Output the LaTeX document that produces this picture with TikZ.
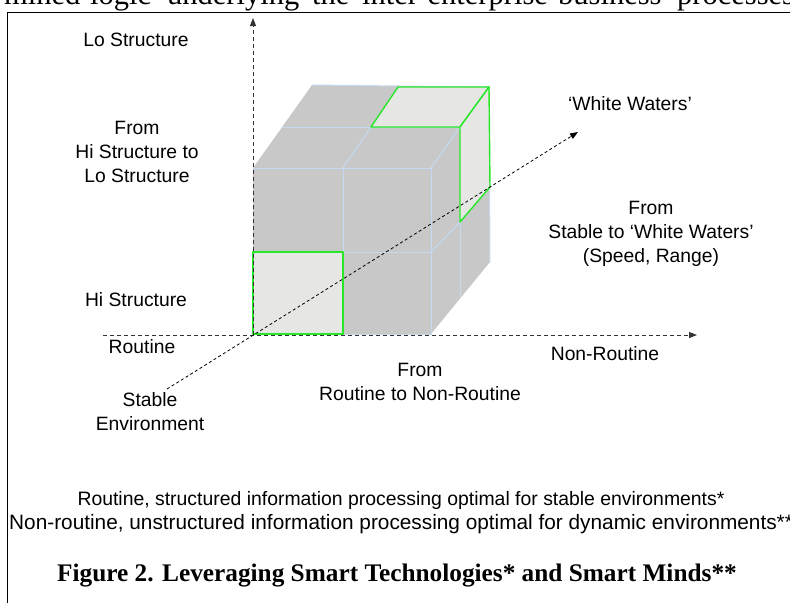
\documentclass[tikz,border=0pt]{standalone}
\usepackage{fontspec}
\setmainfont{Liberation Serif}
\newfontfamily\arial{Liberation Sans}
\usetikzlibrary{arrows.meta}
\definecolor{cubegray}{RGB}{200,200,200}
\definecolor{cellfill}{RGB}{230,231,228}
\definecolor{edgeblue}{RGB}{196,218,240}
\definecolor{hlgreen}{RGB}{40,230,40}
\tikzset{
  lbl/.style={font=\arial\fontsize{19.3}{24}\selectfont, align=center, inner sep=0pt},
  toptext/.style={font=\fontsize{30.5}{34}\selectfont, anchor=base west, inner sep=0pt},
  axisline/.style={draw=black!80, line width=1pt, dash pattern=on 4pt off 3pt, -{Triangle[length=8pt,width=6pt]}},
  diagline/.style={draw=black, line width=0.8pt, dash pattern=on 3pt off 2.5pt, -{Triangle[length=8pt,width=6pt]}},
  cubeedge/.style={draw=edgeblue, line width=1pt},
  greencell/.style={fill=cellfill, draw=hlgreen, line width=1.4pt, line join=round},
  frameline/.style={draw=black, line width=1.6pt}
}
\begin{document}
\begin{tikzpicture}[x=1pt,y=-1pt]
\useasboundingbox (0,0) rectangle (790,603);
% clipped running text at the top
\begin{scope}
\clip (0,0) rectangle (790,11.5);
\node[toptext] (w1) at (4,4) {mined};
\node[toptext] (w2) at (90,4) {logic};
\node[toptext] (w3) at (167,4) {underlying};
\node[toptext] (w4) at (312,4) {the};
\node[toptext] (w5) at (362,4) {inter-enterprise};
\node[toptext] (w6) at (558,4) {business};
\node[toptext] (w7) at (677,4) {processes};
\end{scope}
% frame
\coordinate (fa) at (7.5,603);
\coordinate (fb) at (7.5,12.5);
\coordinate (fc) at (790,12.5);
\draw[frameline] (fa) -- (fb) -- (fc);
% cube points
\coordinate (FBL) at (253,334);
\coordinate (FBR) at (431,334);
\coordinate (FTR) at (431,168);
\coordinate (FTL) at (253,168);
\coordinate (BTL) at (312,85);
\coordinate (BTR) at (489,87);
\coordinate (BBR) at (490,262);
\coordinate (MTL) at (282,127);
\coordinate (MTR) at (460,127);
\coordinate (MBR) at (460,297);
\coordinate (FTM) at (343,168);
\coordinate (FBM) at (343,334);
\coordinate (FML) at (253,252);
\coordinate (FMR) at (431,252);
\coordinate (FMM) at (343,252);
\coordinate (MTM) at (371,127);
\coordinate (BTM) at (398,87);
\coordinate (MMR) at (460,222);
\coordinate (BMR) at (490,187);
% cube body
\fill[cubegray] (FBL) -- (FTL) -- (BTL) -- (BTR) -- (BBR) -- (FBR) -- cycle;
\draw[cubeedge] (FTL) -- (FTR) -- (FBR) -- (FBL);
\draw[cubeedge] (FTM) -- (FBM);
\draw[cubeedge] (FML) -- (FMR);
\draw[cubeedge] (MTL) -- (MTR);
\draw[cubeedge] (BTL) -- (BTR) -- (BBR);
\draw[cubeedge] (FTM) -- (MTM) -- (BTM);
\draw[cubeedge] (FTR) -- (MTR) -- (BTR);
\draw[cubeedge] (MTR) -- (MBR);
\draw[cubeedge] (FMR) -- (MMR) -- (BMR);
% highlighted cells
\draw[greencell] (FML) -- (FMM) -- (FBM) -- (FBL) -- cycle;
\draw[greencell] (MTM) -- (BTM) -- (BTR) -- (MTR) -- cycle;
\draw[greencell] (MTR) -- (BTR) -- (BMR) -- (MMR) -- cycle;
% axes
\coordinate (O) at (253,335);
\coordinate (ytop) at (253,18);
\coordinate (xstart) at (103,335);
\coordinate (xend) at (697,335);
\coordinate (dstart) at (167,389);
\coordinate (dend) at (578,132);
\draw[axisline] (O) -- (ytop);
\draw[axisline] (xstart) -- (xend);
\draw[diagline] (dstart) -- (dend);
% labels
\node[lbl] (lo) at (136,40) {Lo Structure};
\node[lbl] (hilo) at (137,152) {From\\Hi Structure to\\Lo Structure};
\node[lbl] (hi) at (136,300) {Hi Structure};
\node[lbl] (rt) at (142,347) {Routine};
\node[lbl] (nr) at (605,354) {Non-Routine};
\node[lbl] (rtnr) at (420,382) {From\\Routine to Non-Routine};
\node[lbl] (st) at (150,412) {Stable\\Environment};
\node[lbl] (ww) at (630,104) {‘White Waters’};
\node[lbl] (sww) at (651,234) {From\\Stable to ‘White Waters’\\(Speed, Range)};
\node[lbl, font=\arial\fontsize{19.4}{24}\selectfont] (note1) at (401,500) {Routine, structured information processing optimal for stable environments*};
\node[lbl, font=\arial\fontsize{20.8}{24}\selectfont, anchor=west] (note2) at (9,524) {Non-routine, unstructured information processing optimal for dynamic environments**};
\node[inner sep=0pt, font=\bfseries\fontsize{25.3}{30}\selectfont] (cap) at (397,576) {Figure 2. Leveraging Smart Technologies* and Smart Minds**};
\end{tikzpicture}
\end{document}
